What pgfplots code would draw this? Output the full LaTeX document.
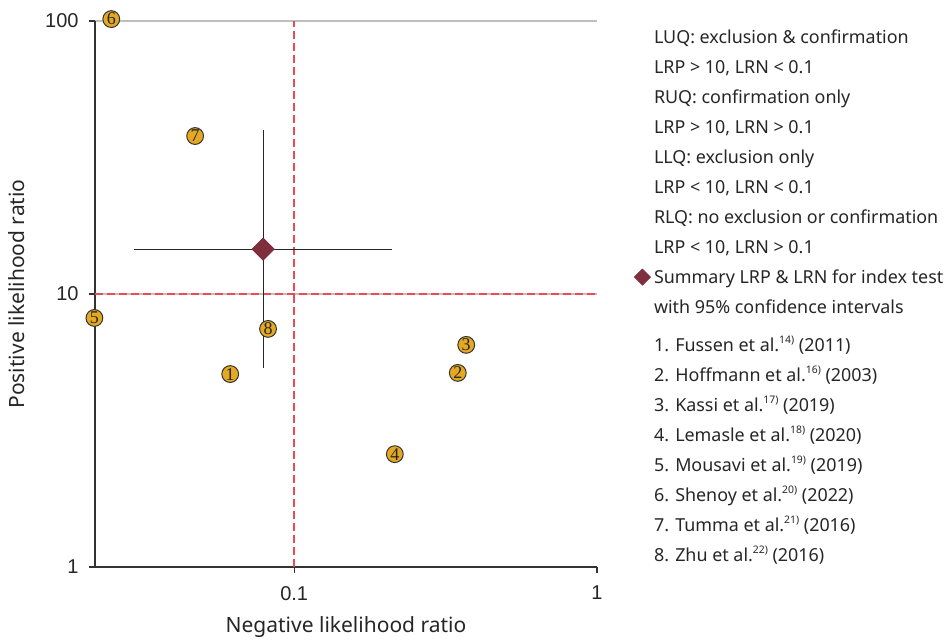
\documentclass[border=0pt]{standalone}
\usepackage{fontspec}
\setmainfont{Noto Sans}
\newfontfamily\ticksfont{Liberation Sans}
\newfontfamily\serifnum{Liberation Serif}
\usepackage{pgfplots}
\pgfplotsset{compat=1.18}
\definecolor{gold}{HTML}{E4A822}
\definecolor{sumred}{HTML}{7E2F3B}
\definecolor{refred}{HTML}{EC4A55}
\definecolor{gridgray}{HTML}{BEBEBE}
\definecolor{axisgray}{HTML}{333333}
\newcommand\sups[1]{\raisebox{3.6pt}{\fontsize{5.2}{6}\selectfont #1}}
\begin{document}
\begin{tikzpicture}
\useasboundingbox (0,0) rectangle (472.5pt,320.5pt);
\begin{axis}[
  at={(47.5pt,37pt)}, anchor=south west,
  width=251pt, height=273pt, scale only axis,
  xmode=log, ymode=log,
  xmin=0.022, xmax=1, ymin=1, ymax=100,
  axis x line*=bottom, axis y line*=left,
  axis line style={-, draw=axisgray, line width=0.6pt},
  xtick={0.1,1}, ytick={1,10,100},
  xminorticks=false, yminorticks=false,
  log ticks with fixed point,
  /pgf/number format/assume math mode=true,
  tick align=outside, major tick length=3pt,
  tick style={draw=axisgray, line width=0.6pt},
  tick label style={font=\ticksfont\fontsize{10}{12}\selectfont, text=black!85},
  xticklabel style={yshift=-3pt},
  yticklabel style={xshift=-1.7pt},
  ymajorgrids, grid style={gridgray, line width=0.6pt},
  xlabel={Negative likelihood ratio},
  ylabel={Positive likelihood ratio},
  label style={font=\fontsize{10.5}{12}\selectfont, text=black!85},
  xlabel style={at={(axis description cs:0.5,-0.1099)}, anchor=center},
  ylabel style={at={(axis description cs:-0.1554,0.5)}, anchor=center},
  clip=false,
  legend cell align=left,
  legend style={at={(axis description cs:1.0737,0.998)}, anchor=north west,
    draw=none, fill=none, inner sep=0pt, outer sep=0pt, row sep=0pt,
    column sep=1.6pt, font=\fontsize{8.95}{15}\selectfont,
    nodes={inner sep=0pt, text height=10.5pt, text depth=4.5pt, text=black!85},
    /tikz/every even column/.append style={column sep=1.6pt}},
]
\addplot[refred, line width=0.75pt, dash pattern=on 4pt off 2pt, forget plot] coordinates {(0.1,1) (0.1,100)};
\addplot[refred, line width=0.75pt, dash pattern=on 4pt off 2pt, forget plot] coordinates {(0.022,10) (1,10)};
\addplot[only marks, mark=square*, mark size=3.9pt, mark options={rotate=45, fill=sumred, draw=sumred}, forget plot] coordinates {(0.079,14.6)};
\addplot[black!85, line width=0.6pt, forget plot] coordinates {(0.0297,14.6) (0.210,14.6)};
\addplot[black!85, line width=0.6pt, forget plot] coordinates {(0.079,5.36) (0.079,39.9)};
\addplot[only marks, mark=*, mark size=4.2pt,
  mark options={fill=gold, draw=axisgray, line width=0.5pt},
  point meta=explicit symbolic, nodes near coords,
  nodes near coords align={anchor=center},
  nodes near coords style={font=\serifnum\fontsize{9}{9}\selectfont, inner sep=0pt, text=black!85},
  forget plot] table[x=x, y=y, meta=label] {
x y label
0.0615 5.09 1
0.347 5.14 2
0.370 6.51 3
0.215 2.59 4
0.0219 8.17 5
0.0249 101.6 6
0.0471 37.9 7
0.082 7.45 8
};
\addlegendimage{empty legend}\addlegendentry{LUQ: exclusion \& confirmation}
\addlegendimage{empty legend}\addlegendentry{LRP > 10, LRN < 0.1}
\addlegendimage{empty legend}\addlegendentry{RUQ: confirmation only}
\addlegendimage{empty legend}\addlegendentry{LRP > 10, LRN > 0.1}
\addlegendimage{empty legend}\addlegendentry{LLQ: exclusion only}
\addlegendimage{empty legend}\addlegendentry{LRP < 10, LRN < 0.1}
\addlegendimage{empty legend}\addlegendentry{RLQ: no exclusion or confirmation}
\addlegendimage{empty legend}\addlegendentry{LRP < 10, LRN > 0.1}
\addlegendimage{legend image code/.code={\fill[sumred, rotate=45] (-2.83pt,-2.83pt) rectangle (2.83pt,2.83pt);}}
\addlegendentry{Summary LRP \& LRN for index test}
\addlegendimage{empty legend}\addlegendentry[text depth=8.5pt]{with 95\% confidence intervals}
\addlegendimage{empty legend}\addlegendentry{1. Fussen et al.\sups{14)} (2011)}
\addlegendimage{empty legend}\addlegendentry{2. Hoffmann et al.\sups{16)} (2003)}
\addlegendimage{empty legend}\addlegendentry{3. Kassi et al.\sups{17)} (2019)}
\addlegendimage{empty legend}\addlegendentry{4. Lemasle et al.\sups{18)} (2020)}
\addlegendimage{empty legend}\addlegendentry{5. Mousavi et al.\sups{19)} (2019)}
\addlegendimage{empty legend}\addlegendentry{6. Shenoy et al.\sups{20)} (2022)}
\addlegendimage{empty legend}\addlegendentry{7. Tumma et al.\sups{21)} (2016)}
\addlegendimage{empty legend}\addlegendentry{8. Zhu et al.\sups{22)} (2016)}
\end{axis}
\end{tikzpicture}
\end{document}
